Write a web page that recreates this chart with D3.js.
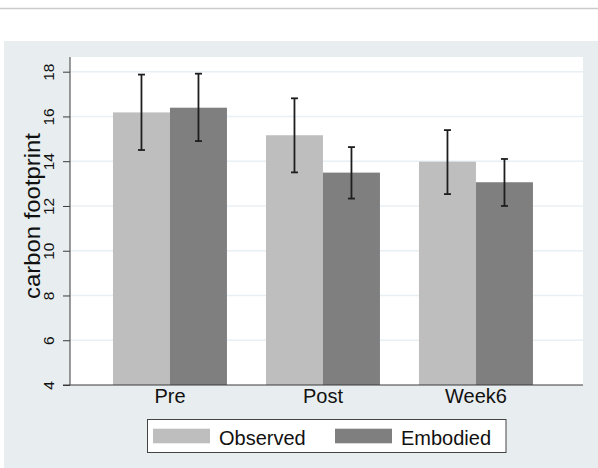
<!DOCTYPE html>
<html>
<head>
<meta charset="utf-8">
<script src="https://cdn.jsdelivr.net/npm/d3@7"></script>
<style>
	body { margin: 0; background: #fff; }
	svg { display: block; font-family: "Liberation Sans", Arial, Helvetica, sans-serif; }
</style>
</head>
<body>
<div id="chart"></div>
<script>

var categories = ['Pre', 'Post', 'Week6'];
var series = ['Observed', 'Embodied'];
var observed = [16.18, 15.16, 13.98];
var observed_lo = [14.50, 13.50, 12.53];
var observed_hi = [17.87, 16.81, 15.39];
var embodied = [16.39, 13.49, 13.06];
var embodied_lo = [14.90, 12.33, 12.00];
var embodied_hi = [17.91, 14.63, 14.10];
var y_ticks = [4, 6, 8, 10, 12, 14, 16, 18];
var colors = ['#bebebe', '#7f7f7f'];

var width = 598, height = 468;
var plot_l = 70, plot_r = 583, plot_t = 57, plot_b = 385;

var svg = d3.select('div#chart').append('svg')
	.attr('width', width)
	.attr('height', height);

// page strip above the figure
svg.append('line')
	.attr('x1', 0).attr('x2', width)
	.attr('y1', 8.5).attr('y2', 8.5)
	.attr('stroke', '#cbcbcb')
	.attr('stroke-width', 1.5);

// graph region
svg.append('rect')
	.attr('x', 4)
	.attr('y', 41)
	.attr('width', width - 4)
	.attr('height', height - 41)
	.attr('fill', '#e8eeef');

svg.append('rect')
	.attr('x', plot_l)
	.attr('y', plot_t)
	.attr('width', plot_r - plot_l)
	.attr('height', plot_b - plot_t)
	.attr('fill', 'white');

var y = d3.scaleLinear()
	.domain([4, 18])
	.range([plot_b, plot_b - 14 * 22.38]);

var x = d3.scaleBand()
	.domain(categories)
	.range([plot_l, plot_r])
	.paddingInner(0.255)
	.paddingOuter(0.304)
	.align(0.462);

var xs = d3.scaleBand()
	.domain(series)
	.range([0, x.bandwidth()]);

// grid
svg.append('g').selectAll('line')
	.data(y_ticks.slice(1))
	.enter().append('line')
	.attr('x1', plot_l + 1).attr('x2', plot_r)
	.attr('y1', function(d) { return y(d); })
	.attr('y2', function(d) { return y(d); })
	.attr('stroke', '#e8f0f4')
	.attr('stroke-width', 1.6);

var rows = categories.map(function(c, i) {
	return [
		{cat: c, s: 'Observed', v: observed[i], lo: observed_lo[i], hi: observed_hi[i], col: colors[0]},
		{cat: c, s: 'Embodied', v: embodied[i], lo: embodied_lo[i], hi: embodied_hi[i], col: colors[1]}
	];
});
var flat = d3.merge(rows);

svg.append('g').selectAll('rect')
	.data(flat)
	.enter().append('rect')
	.attr('x', function(d) { return x(d.cat) + xs(d.s); })
	.attr('y', function(d) { return y(d.v); })
	.attr('width', xs.bandwidth())
	.attr('height', function(d) { return plot_b - y(d.v); })
	.attr('fill', function(d) { return d.col; });

// error bars
var eb = svg.append('g')
	.attr('stroke', '#1e1e1e')
	.attr('stroke-width', 1.8);

flat.forEach(function(d) {
	var cx = x(d.cat) + xs(d.s) + xs.bandwidth() / 2;
	eb.append('line')
		.attr('x1', cx).attr('x2', cx)
		.attr('y1', y(d.hi)).attr('y2', y(d.lo));
	eb.append('line')
		.attr('x1', cx - 3.5).attr('x2', cx + 3.5)
		.attr('y1', y(d.hi)).attr('y2', y(d.hi));
	eb.append('line')
		.attr('x1', cx - 3.5).attr('x2', cx + 3.5)
		.attr('y1', y(d.lo)).attr('y2', y(d.lo));
});

// axes
var yAxis = d3.axisLeft(y)
	.tickValues(y_ticks)
	.tickSize(7)
	.tickPadding(6)
	.tickSizeOuter(0);

var ya = svg.append('g')
	.attr('transform', 'translate(' + plot_l + ',0)')
	.call(yAxis);
ya.select('.domain')
	.attr('d', 'M0,' + plot_t + 'V' + plot_b)
	.attr('stroke', '#3a3a3a');
ya.selectAll('.tick line').attr('stroke', '#3a3a3a');
ya.selectAll('.tick text')
	.attr('font-size', 15.5)
	.attr('fill', '#111')
	.attr('x', null).attr('dy', null)
	.attr('text-anchor', 'middle')
	.attr('transform', 'translate(-16,0) rotate(-90)');

var xAxis = d3.axisBottom(x)
	.tickSize(0)
	.tickPadding(0)
	.tickSizeOuter(0);

var xa = svg.append('g')
	.attr('transform', 'translate(0,' + plot_b + ')')
	.call(xAxis);
xa.select('.domain')
	.attr('d', 'M' + (plot_l - 7) + ',0H' + plot_r)
	.attr('stroke', '#3a3a3a');
xa.selectAll('.tick text')
	.attr('font-size', 20)
	.attr('fill', '#111')
	.attr('dy', null)
	.attr('y', 18);

svg.append('text')
	.attr('transform', 'translate(40,' + 216 + ') rotate(-90)')
	.attr('text-anchor', 'middle')
	.attr('font-size', 22)
	.attr('textLength', 166)
	.attr('lengthAdjust', 'spacingAndGlyphs')
	.attr('fill', '#111')
	.text('carbon footprint');

// legend
var lg = svg.append('g');
lg.append('rect')
	.attr('x', 147.5).attr('y', 419.5)
	.attr('width', 358.5).attr('height', 33)
	.attr('fill', 'white')
	.attr('stroke', '#444')
	.attr('stroke-width', 1);

var lx = [153, 335];
series.forEach(function(s, i) {
	lg.append('rect')
		.attr('x', lx[i]).attr('y', 428.7)
		.attr('width', 57).attr('height', 14.6)
		.attr('fill', colors[i]);
	lg.append('text')
		.attr('x', lx[i] + 66).attr('y', 445)
		.attr('font-size', 20)
		.attr('fill', '#111')
		.text(s);
});

</script>
</body>
</html>
